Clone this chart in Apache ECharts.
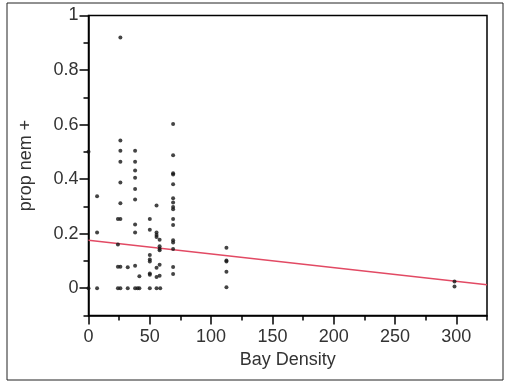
<!DOCTYPE html>
<html>
<head>
<meta charset="utf-8">
<script src="https://cdn.jsdelivr.net/npm/echarts@6/dist/echarts.min.js"></script>
<style>
html,body{margin:0;padding:0;background:#fff;}
#chart{width:505px;height:383px;}
</style>
</head>
<body>
<div id="chart"></div>
<script>
// Data
const bayDensity = [
  0, 0,
  7, 7, 7,
  24, 24, 24, 24,
  26, 26, 26, 26, 26, 26, 26, 26, 26,
  32, 32,
  38, 38, 38, 38, 38, 38, 38, 38, 38, 38,
  40,
  41.5, 41.5,
  50, 50, 50, 50, 50, 50, 50, 50,
  55.5, 55.5, 55.5, 55.5, 55.5, 55.5, 55.5,
  58, 58, 58, 58, 58, 58, 58.5,
  69, 69, 69, 69, 69, 69, 69, 69, 69, 69, 69, 69, 69, 69, 69, 69,
  112.5, 112.5, 112.5, 112.5, 112.5,
  298.5, 298.5
];
const propNem = [
  0.5, 0,
  0.337, 0.204, 0,
  0.16, 0.079, 0.254, 0,
  0.919, 0.542, 0.504, 0.464, 0.388, 0.312, 0.254, 0.079, 0,
  0.077, 0,
  0.504, 0.464, 0.432, 0.405, 0.364, 0.325, 0.234, 0.204, 0.082, 0,
  0,
  0.044, 0,
  0.254, 0.214, 0.122, 0.105, 0.098, 0.054, 0.049, 0,
  0.303, 0.204, 0.195, 0.188, 0.075, 0.041, 0,
  0.178, 0.154, 0.145, 0.139, 0.086, 0.046, 0,
  0.602, 0.488, 0.422, 0.417, 0.381, 0.330, 0.314, 0.298, 0.290, 0.254, 0.232, 0.176, 0.168, 0.144, 0.078, 0.052,
  0.148, 0.102, 0.098, 0.060, 0.004,
  0.025, 0.006
];
// Fitted line endpoints
const fitX = [0, 325];
const fitY = [0.1757, 0.0124];

// Tick values
const xMajorTicks = [0, 50, 100, 150, 200, 250, 300];
const xMinorTicks = [25, 75, 125, 175, 225, 275, 325];
const yMajorTicks = [0, 0.2, 0.4, 0.6, 0.8, 1];
const yMinorTicks = [-0.1, 0.1, 0.3, 0.5, 0.7, 0.9];

const scatterData = bayDensity.map((x, i) => [x, propNem[i]]);
const fitData = fitX.map((x, i) => [x, fitY[i]]);

const FONT = 'Liberation Sans, Arial, Helvetica, sans-serif';
const chart = echarts.init(document.getElementById('chart'), null, {renderer: 'canvas'});

const axisLineStyle = {color: '#000', width: 1.5};

chart.setOption({
  animation: false,
  backgroundColor: '#fff',
  graphic: [{
    type: 'rect',
    shape: {x: 7, y: 3, width: 496, height: 377},
    style: {fill: null, stroke: '#222', lineWidth: 1},
    silent: true,
    z: -1
  }],
  grid: {
    left: 88.5, right: 18, top: 15.5, bottom: 67.5,
    show: true, borderColor: '#000', borderWidth: 1.5, backgroundColor: 'transparent'
  },
  xAxis: [{
    type: 'value', min: 0, max: 325, position: 'bottom',
    name: 'Bay Density', nameLocation: 'middle', nameGap: 32,
    nameTextStyle: {fontFamily: FONT, fontSize: 18, color: '#333'},
    axisLine: {show: true, onZero: false, lineStyle: axisLineStyle},
    axisTick: {show: true, inside: false, length: 9, customValues: xMajorTicks, lineStyle: axisLineStyle},
    axisLabel: {show: true, margin: 13, customValues: xMajorTicks, fontFamily: FONT, fontSize: 18, color: '#333'},
    splitLine: {show: false}
  }, {
    type: 'value', min: 0, max: 325, position: 'bottom', offset: 0,
    axisLine: {show: false, onZero: false},
    axisTick: {show: true, inside: false, length: 5, customValues: xMinorTicks, lineStyle: axisLineStyle},
    axisLabel: {show: false},
    splitLine: {show: false}
  }],
  yAxis: [{
    type: 'value', min: -0.1, max: 1, position: 'left',
    name: 'prop nem +', nameLocation: 'middle', nameGap: 53, nameRotate: 90,
    nameTextStyle: {fontFamily: FONT, fontSize: 18, color: '#333'},
    axisLine: {show: true, onZero: false, lineStyle: axisLineStyle},
    axisTick: {show: true, inside: false, length: 9, customValues: yMajorTicks, lineStyle: axisLineStyle},
    axisLabel: {show: true, margin: 10, customValues: yMajorTicks, fontFamily: FONT, fontSize: 18, color: '#333'},
    splitLine: {show: false}
  }, {
    type: 'value', min: -0.1, max: 1, position: 'left', offset: 0,
    axisLine: {show: false, onZero: false},
    axisTick: {show: true, inside: false, length: 5, customValues: yMinorTicks, lineStyle: axisLineStyle},
    axisLabel: {show: false},
    splitLine: {show: false}
  }],
  series: [{
    type: 'line',
    data: fitData,
    xAxisIndex: 0, yAxisIndex: 0,
    showSymbol: false, symbol: 'none',
    lineStyle: {color: '#e24a64', width: 1.5},
    z: 2
  }, {
    type: 'scatter',
    data: scatterData,
    xAxisIndex: 0, yAxisIndex: 0,
    symbol: 'circle', symbolSize: 4,
    itemStyle: {color: '#151515'},
    z: 3
  }]
});
</script>
</body>
</html>
